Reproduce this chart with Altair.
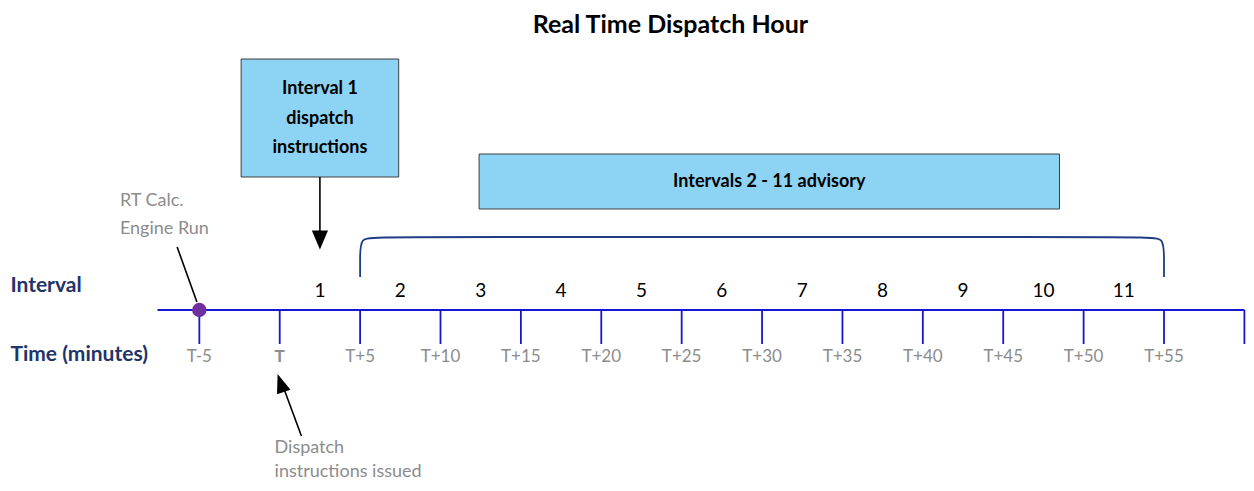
import altair as alt
import pandas as pd

FONT = "Lato"
BLUE = "#1616D4"
NAVY = "#1F3468"
BRACKET = "#1F3C86"
GRAY = "#8C8C8C"
BOX_FILL = "#8DD3F3"
BOX_STROKE = "#3F3F3F"
PURPLE = "#7030A0"

# ---------------- data ----------------
tick_minutes = [-5, 0, 5, 10, 15, 20, 25, 30, 35, 40, 45, 50, 55, 60]
tick_labels = ["T-5", "T", "T+5", "T+10", "T+15", "T+20", "T+25", "T+30",
               "T+35", "T+40", "T+45", "T+50", "T+55", ""]
interval_numbers = ["1", "2", "3", "4", "5", "6", "7", "8", "9", "10", "11"]
interval_starts = [0, 5, 10, 15, 20, 25, 30, 35, 40, 45, 50]

box_texts = ["Interval 1", "dispatch", "instructions", "Intervals 2 - 11 advisory"]
row_labels = ["Interval", "Time (minutes)"]
note_texts = ["RT Calc.", "Engine Run", "Dispatch", "instructions issued"]
title_text = "Real Time Dispatch Hour"

# ---------------- scales ----------------
XS = alt.Scale(domain=[-16.9, 60.1], nice=False, zero=False)
YS = alt.Scale(domain=[-173, 302], nice=False, zero=False)


def xe(f="x"):
    return alt.X(f"{f}:Q", scale=XS, axis=None)


def ye(f="y"):
    return alt.Y(f"{f}:Q", scale=YS, axis=None)


# boxes
boxes_df = pd.DataFrame({"x": [-2.4, 12.4], "x2": [7.4, 48.5],
                         "y": [251, 156], "y2": [133, 101]})
boxes = alt.Chart(boxes_df).mark_rect(fill=BOX_FILL, stroke=BOX_STROKE, strokeWidth=1).encode(
    x=xe(), x2="x2:Q", y=ye(), y2="y2:Q")

box_text_df = pd.DataFrame({"x": [2.5, 2.5, 2.5, 30.45], "y": [221, 191, 162, 128],
                            "text": box_texts, "fs": [18, 18, 18, 18]})
box_text = alt.Chart(box_text_df).mark_text(font=FONT, fontWeight="bold", color="black",
                                            align="center", baseline="middle").encode(
    x=xe(), y=ye(), text="text:N", size=alt.Size("fs:Q", scale=None, legend=None))

# bracket over intervals 2-11
bracket_df = pd.DataFrame({
    "x": [5, 5, 5, 6.0, 54.0, 55, 55, 55],
    "y": [33, 50, 73, 73, 73, 73, 50, 33],
    "o": list(range(8))})
bracket = alt.Chart(bracket_df).mark_line(color=BRACKET, strokeWidth=1.8, interpolate="basis").encode(
    x=xe(), y=ye(), order="o:Q")

# axis line
axis_df = pd.DataFrame({"x": [-7.6], "x2": [60], "y": [0]})
axis_line = alt.Chart(axis_df).mark_rule(color=BLUE, strokeWidth=2.2).encode(
    x=xe(), x2="x2:Q", y=ye())

ticks_df = pd.DataFrame({"x": tick_minutes, "label": tick_labels})
ticks = alt.Chart(ticks_df).mark_rule(color=BLUE, strokeWidth=1.8).encode(
    x=xe(), y=alt.value(302), y2=alt.value(336))

tick_text = alt.Chart(ticks_df).transform_filter("datum.label != 'T'").mark_text(
    font=FONT, fontSize=17, color=GRAY, align="center", baseline="middle").encode(
    x=xe(), y=alt.value(349), text="label:N")
tick_text_t = alt.Chart(ticks_df).transform_filter("datum.label == 'T'").mark_text(
    font=FONT, fontSize=17, fontWeight="bold", color=GRAY, align="center", baseline="middle").encode(
    x=xe(), y=alt.value(349), text="label:N")

int_df = pd.DataFrame({"start": interval_starts, "label": interval_numbers})
int_text = alt.Chart(int_df).transform_calculate(mid="datum.start + 2.5").mark_text(
    font=FONT, fontSize=19, color="black", align="center", baseline="middle").encode(
    x=xe("mid"), y=alt.value(283), text="label:N")

row_df = pd.DataFrame({"x": [-16.75, -16.75], "y": [24, -45], "text": row_labels})
row_text = alt.Chart(row_df).mark_text(font=FONT, fontSize=21, fontWeight="bold", color=NAVY,
                                       align="left", baseline="middle").encode(
    x=xe(), y=ye(), text="text:N")

note_df = pd.DataFrame({"x": [-9.94, -9.94, -0.32, -0.32], "y": [109, 81, -138, -162],
                        "text": note_texts})
notes = alt.Chart(note_df).mark_text(font=FONT, fontSize=18, color=GRAY,
                                     align="left", baseline="middle").encode(
    x=xe(), y=ye(), text="text:N")

lines_df = pd.DataFrame({"x": [-6.38, 2.5, 1.35], "x2": [-5.15, 2.5, 0.2],
                         "y": [63, 133, -126], "y2": [8, 76, -76]})
lines = alt.Chart(lines_df).mark_rule(color="black", strokeWidth=1.6).encode(
    x=xe(), x2="x2:Q", y=ye(), y2="y2:Q")

head_down = alt.Chart(pd.DataFrame({"x": [2.5], "y": [70]})).mark_point(
    shape="M-0.85,-1L0.85,-1L0,1Z", filled=True, color="black", opacity=1, size=361).encode(
    x=xe(), y=ye())
head_up = alt.Chart(pd.DataFrame({"x": [0.06], "y": [-73]})).mark_point(
    shape="M-0.75,1L0.75,1L0,-1Z", filled=True, color="black", opacity=1, size=361, angle=341).encode(
    x=xe(), y=ye())

dot = alt.Chart(pd.DataFrame({"x": [-5], "y": [0]})).mark_circle(
    color=PURPLE, opacity=1, size=210).encode(x=xe(), y=ye())

title = alt.Chart(pd.DataFrame({"x": [24.3], "y": [285], "text": [title_text]})).mark_text(
    font=FONT, fontSize=25, fontWeight="bold", color="black", align="center", baseline="middle").encode(
    x=xe(), y=ye(), text="text:N")

chart = alt.layer(
    boxes, box_text, bracket, axis_line, ticks, tick_text, tick_text_t, int_text,
    row_text, notes, lines, head_down, head_up, dot, title
).properties(
    width=1238, height=475,
    autosize=alt.AutoSizeParams(type="none"),
    padding=0, background="white"
).configure_view(stroke=None)

chart.save("out.html", embed_options={"renderer": "svg", "actions": False})
